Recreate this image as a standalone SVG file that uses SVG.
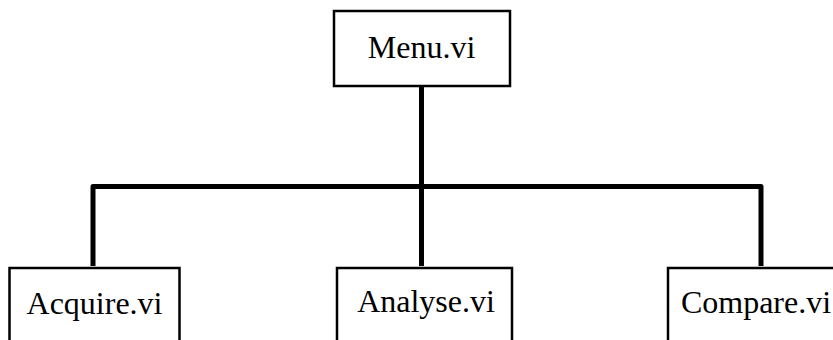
<svg xmlns="http://www.w3.org/2000/svg" width="833" height="340" viewBox="0 0 833 340">
<style>
.box{fill:#fff;stroke:#000;stroke-width:2.5}
.lbl{font-family:"Liberation Serif","Times New Roman",serif;font-size:32px;fill:#000;text-anchor:middle}
.wire{fill:none;stroke:#000;stroke-width:5;stroke-linejoin:round}
</style>
<rect width="833" height="340" fill="#fff"/>
<g id="connectors">
<path class="wire" d="M421.5 87 V186.5"/>
<path class="wire" d="M93 266 V186.5 H761 V266"/>
<path class="wire" d="M421.5 186.5 V266"/>
</g>
<g id="menu">
<rect class="box" x="334" y="11" width="176" height="75"/>
<text class="lbl" x="421.5" y="58">Menu.vi</text>
</g>
<g id="acquire">
<rect class="box" x="9.5" y="268" width="170" height="80"/>
<text class="lbl" x="94.5" y="314">Acquire.vi</text>
</g>
<g id="analyse">
<rect class="box" x="337" y="268" width="175" height="80"/>
<text class="lbl" x="426" y="312">Analyse.vi</text>
</g>
<g id="compare">
<rect class="box" x="668" y="268" width="180" height="80"/>
<text class="lbl" x="756" y="313">Compare.vi</text>
</g>
</svg>
